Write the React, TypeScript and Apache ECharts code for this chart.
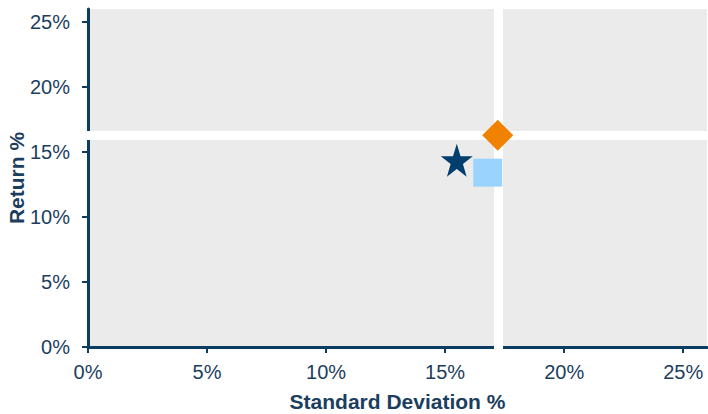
import React, { useEffect, useRef } from "react";
import * as echarts from "echarts";

const xTicks = [0, 5, 10, 15, 20, 25];
const yTicks = [0, 5, 10, 15, 20, 25];
const portfolioStar = [15.49, 14.37];
const portfolioSquare = [16.79, 13.41];
const benchmarkDiamond = [17.21, 16.29];
const crossX = 17.22;
const crossY = 16.29;

const NAVY = "#0B3D63";
const TEXT = "#1C3E5E";
const FONT = "'Liberation Sans', Arial, sans-serif";
const STAR =
  "path://M50,0 L61.2,34.5 L97.6,34.5 L68.2,55.9 L79.4,90.5 L50,69.1 L20.6,90.5 L31.8,55.9 L2.4,34.5 L38.8,34.5 Z";

export default function App() {
  const ref = useRef<HTMLDivElement>(null);
  useEffect(() => {
    if (!ref.current) return;
    const chart = echarts.init(ref.current, null, { renderer: "svg" });
    chart.setOption({
      animation: false,
      grid: {
        left: 88,
        right: 1,
        top: 9,
        bottom: 67,
        show: true,
        backgroundColor: "#EBEBEB",
        borderWidth: 0,
        containLabel: false,
        outerBoundsMode: "none",
      },
      xAxis: {
        type: "value",
        min: 0,
        max: 26,
        interval: 5,
        splitLine: { show: false },
        axisLine: { show: true, lineStyle: { color: NAVY, width: 3 } },
        axisTick: { show: true, length: 6, lineStyle: { color: NAVY, width: 2 }, customValues: xTicks },
        axisLabel: {
          color: TEXT,
          fontFamily: FONT,
          fontSize: 20,
          margin: 15,
          customValues: xTicks,
          formatter: (v: number) => v + "%",
        },
        name: "Standard Deviation %",
        nameLocation: "middle",
        nameGap: 44,
        nameMoveOverlap: false,
        nameTextStyle: { color: TEXT, fontFamily: FONT, fontSize: 21, fontWeight: "bold" },
      },
      yAxis: {
        type: "value",
        min: 0,
        max: 26,
        interval: 5,
        splitLine: { show: false },
        axisLine: { show: true, lineStyle: { color: NAVY, width: 3 } },
        axisTick: { show: true, length: 6, lineStyle: { color: NAVY, width: 2 }, customValues: yTicks },
        axisLabel: {
          color: TEXT,
          fontFamily: FONT,
          fontSize: 20,
          margin: 18,
          customValues: yTicks,
          formatter: (v: number) => v + "%",
        },
        name: "Return %",
        nameLocation: "middle",
        nameGap: 61,
        nameMoveOverlap: false,
        nameTextStyle: { color: TEXT, fontFamily: FONT, fontSize: 21, fontWeight: "bold" },
      },
      series: [
        {
          type: "scatter",
          z: 10,
          symbolSize: 0,
          itemStyle: { opacity: 0 },
          data: [benchmarkDiamond],
          silent: true,
          markLine: {
            silent: true,
            symbol: "none",
            label: { show: false },
            lineStyle: { color: "#FFFFFF", width: 9, type: "solid", cap: "square", opacity: 1 },
            emphasis: { disabled: true },
            data: [
              [{ coord: [crossX, 0] }, { coord: [crossX, 26] }],
              [{ coord: [0, crossY] }, { coord: [26, crossY] }],
            ],
          },
        },
        {
          type: "scatter",
          z: 11,
          symbol: STAR,
          symbolSize: [32, 33],
          itemStyle: { color: "#003F6D", opacity: 1 },
          data: [portfolioStar],
        },
        {
          type: "scatter",
          z: 12,
          symbol: "rect",
          symbolSize: [29, 28],
          itemStyle: { color: "#9BD3FF", opacity: 1 },
          data: [portfolioSquare],
        },
        {
          type: "scatter",
          z: 13,
          symbol: "diamond",
          symbolSize: [31, 31],
          itemStyle: { color: "#F08200", opacity: 1 },
          data: [benchmarkDiamond],
        },
      ],
    });
    return () => chart.dispose();
  }, []);
  return (
    <div
      ref={ref}
      style={{ position: "fixed", left: 0, top: 0, width: 708, height: 414, background: "#FFFFFF" }}
    />
  );
}
